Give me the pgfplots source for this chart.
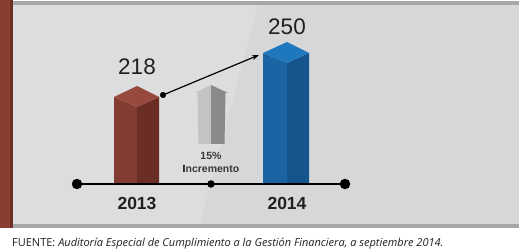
\documentclass[border=0pt]{standalone}
\usepackage{pgfplots}
\pgfplotsset{compat=1.18}
\usepackage{fontspec}
\setmainfont{Liberation Sans}
\newfontfamily\footfont{Open Sans}
\usetikzlibrary{arrows.meta}
\definecolor{panel}{HTML}{D6D7D9}
\definecolor{panellight}{HTML}{DCDDDF}
\definecolor{border}{HTML}{A6A7A9}
\definecolor{brownbar}{HTML}{8A3D31}
\definecolor{brownedge}{HTML}{6E2F26}
\definecolor{rL}{HTML}{823C32}
\definecolor{rR}{HTML}{6A2E25}
\definecolor{rT}{HTML}{97493D}
\definecolor{bL}{HTML}{1B64A3}
\definecolor{bR}{HTML}{15548C}
\definecolor{bT}{HTML}{1F77BE}
\definecolor{gL}{HTML}{C1C3C5}
\definecolor{gR}{HTML}{898A8C}
\definecolor{txt}{HTML}{231F20}
\newcommand{\py}[1]{{162+(184-#1)/1.375}}
\begin{document}
\begin{tikzpicture}
\begin{axis}[
  width=519bp, height=249bp, scale only axis,
  xmin=0, xmax=519, ymin=114.7273, ymax=295.8182,
  axis lines=none, ticks=none, clip=false,
]
% panel background
\fill[white] (axis cs:0,\py{0}) rectangle (axis cs:519,\py{249});
\fill[panel] (axis cs:0,\py{1}) rectangle (axis cs:519,\py{228});
\fill[panellight] (axis cs:12,\py{5}) -- (axis cs:258,\py{5}) -- (axis cs:200,\py{224}) -- (axis cs:12,\py{224}) -- cycle;
\fill[border] (axis cs:0,\py{1}) rectangle (axis cs:519,\py{5});
\fill[border] (axis cs:0,\py{224}) rectangle (axis cs:519,\py{228});
\fill[brownbar] (axis cs:0,\py{0}) rectangle (axis cs:11,\py{228});
\fill[brownedge] (axis cs:10,\py{0}) rectangle (axis cs:12.5,\py{228});
% bar 2013 (218)
\addplot[draw=none, fill=rL] coordinates {(114,162) (114,225.27) (137,218) (137,162) (114,162)};
\addplot[draw=none, fill=rR] coordinates {(137,162) (137,218) (159,225.27) (159,162) (137,162)};
\addplot[draw=none, fill=rT] coordinates {(114,225.27) (137,233.27) (159,225.27) (137,218) (114,225.27)};
% bar 2014 (250)
\addplot[draw=none, fill=bL] coordinates {(263,162) (263,257.27) (287,250) (287,162) (263,162)};
\addplot[draw=none, fill=bR] coordinates {(287,162) (287,250) (309,257.27) (309,162) (287,162)};
\addplot[draw=none, fill=bT] coordinates {(263,257.27) (287,265.27) (309,257.27) (287,250) (263,257.27)};
% timeline
\addplot[black, line width=1.3bp, mark=none] coordinates {(77,162) (345,162)};
\addplot[black, only marks, mark=*, mark size=5bp] coordinates {(77,162) (345,162)};
\addplot[black, only marks, mark=*, mark size=3.5bp] coordinates {(211,162)};
% grey increase arrow
\addplot[draw=none, fill=gL] coordinates {(211,234) (195,228.18) (197.5,228.18) (198.5,191.09) (211,191.09) (211,234)};
\addplot[draw=none, fill=gR] coordinates {(211,234) (228,228.18) (225.5,228.18) (224.5,191.09) (211,191.09) (211,234)};
% black trend arrow
\addplot[black, line width=1.2bp, -{Stealth[length=7bp,width=5bp]}] coordinates {(163,226.73) (259,255.82)};
\addplot[black, only marks, mark=*, mark size=2.8bp] coordinates {(163,226.73)};
% labels
\node[font=\fontsize{22.5bp}{24bp}\selectfont, text=txt] at (axis cs:137,\py{67}) {218};
\node[font=\fontsize{22.5bp}{24bp}\selectfont, text=txt] at (axis cs:287,\py{27}) {250};
\node[font=\bfseries\fontsize{17.5bp}{19bp}\selectfont, text=txt] at (axis cs:137,\py{203}) {2013};
\node[font=\bfseries\fontsize{17.5bp}{19bp}\selectfont, text=txt] at (axis cs:287,\py{203}) {2014};
\node[font=\bfseries\fontsize{10.5bp}{12bp}\selectfont, text=black!78] at (axis cs:211,\py{156}) {15\%};
\node[font=\bfseries\fontsize{10.5bp}{12bp}\selectfont, text=black!78] at (axis cs:211,\py{169}) {\textcolor{black}{I}ncremento};
\node[anchor=base west, inner sep=0pt, font=\footfont\fontsize{11bp}{12bp}\selectfont, text=txt] at (axis cs:12,\py{246.5}) {FUENTE: \textit{Auditoría Especial de Cumplimiento a la Gestión Financiera, a septiembre 2014.}};
\end{axis}
\end{tikzpicture}
\end{document}
